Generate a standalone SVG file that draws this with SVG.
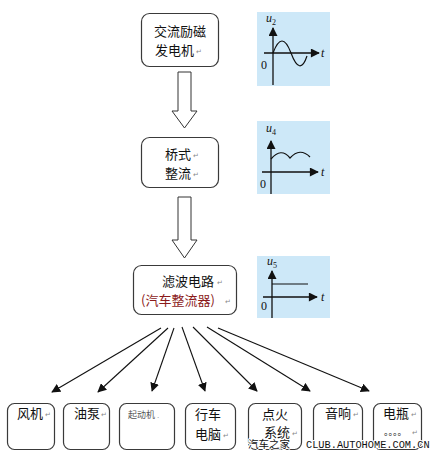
<svg xmlns="http://www.w3.org/2000/svg" width="432" height="455" viewBox="0 0 432 455">
<defs>
<style>
.box{fill:#fff;stroke:#3a3a3a;stroke-width:1.2}
.t{font-family:"Noto Sans CJK SC","Liberation Sans",sans-serif;font-size:13px;fill:#111}
.ret{font-family:"DejaVu Sans",sans-serif;font-size:7px;fill:#888}
.plot{fill:#cde8f8}
.ax{stroke:#111;stroke-width:1.3;fill:none}
.wave{stroke:#111;stroke-width:1.2;fill:none}
.pl{font-family:"Liberation Serif",serif;font-size:12px;fill:#111}
.it{font-style:italic}
.hollow{fill:#fff;stroke:#333;stroke-width:1}
.con{stroke:#111;stroke-width:1.1;fill:none;marker-end:url(#ah)}
</style>
<marker id="ah" viewBox="0 0 10 10" refX="9" refY="5" markerWidth="9" markerHeight="9" markerUnits="userSpaceOnUse" orient="auto">
<path d="M0,0 L10,5 L0,10 z" fill="#111"/>
</marker>
<marker id="axh" viewBox="0 0 10 10" refX="9" refY="5" markerWidth="10" markerHeight="9" markerUnits="userSpaceOnUse" orient="auto">
<path d="M0,0 L10,5 L0,10 z" fill="#111"/>
</marker>
</defs>

<!-- main chain -->
<g id="n1">
<rect class="box" x="141.5" y="13.5" width="77" height="53" rx="8"/>
<text class="t" x="180" y="36" text-anchor="middle">交流励磁</text>
<text class="t" x="155" y="55">发电机</text><text class="ret" x="196" y="54">↵</text>
</g>
<g id="n2">
<rect class="box" x="141.5" y="137.5" width="77" height="50" rx="8"/>
<text class="t" x="165" y="159">桥式</text><text class="ret" x="193" y="158">↵</text>
<text class="t" x="165" y="178">整流</text><text class="ret" x="193" y="177">↵</text>
</g>
<g id="n3">
<rect class="box" x="133.5" y="265.5" width="103" height="49" rx="8"/>
<text class="t" x="162" y="286">滤波电路</text><text class="ret" x="217" y="285">↵</text>
<text class="t" x="141" y="305" style="fill:#8b1a1a">(汽车整流器)</text><text class="ret" x="225" y="304">↵</text>
</g>

<!-- waveform plots -->
<g id="p1">
<rect class="plot" x="257" y="12" width="73" height="74"/>
<line class="ax" x1="273" y1="85" x2="273" y2="28" marker-end="url(#axh)"/>
<line class="ax" x1="264" y1="53" x2="319" y2="53" marker-end="url(#axh)"/>
<path class="wave" d="M273,53 Q282,29 291,53 Q300,77 307,56"/>
<text class="pl it" x="266" y="22">u<tspan font-size="8" dy="3" font-style="normal">2</tspan></text>
<text class="pl it" x="321" y="57">t</text>
<text class="pl" x="261" y="69">0</text>
</g>
<g id="p2">
<rect class="plot" x="257" y="121" width="73" height="73"/>
<line class="ax" x1="271" y1="194" x2="271" y2="141" marker-end="url(#axh)"/>
<line class="ax" x1="262" y1="172" x2="318" y2="172" marker-end="url(#axh)"/>
<path class="wave" d="M271,159 Q281,147 290,158 Q300,147 310,157"/>
<text class="pl it" x="266" y="132">u<tspan font-size="8" dy="3" font-style="normal">4</tspan></text>
<text class="pl it" x="321" y="176">t</text>
<text class="pl" x="260" y="188">0</text>
</g>
<g id="p3">
<rect class="plot" x="257" y="256" width="73" height="62"/>
<line class="ax" x1="272" y1="318" x2="272" y2="271" marker-end="url(#axh)"/>
<line class="ax" x1="263" y1="297" x2="317" y2="297" marker-end="url(#axh)"/>
<line class="wave" x1="272" y1="284" x2="308" y2="284"/>
<text class="pl it" x="267" y="265">u<tspan font-size="8" dy="3" font-style="normal">5</tspan></text>
<text class="pl it" x="321" y="301">t</text>
<text class="pl" x="261" y="310">0</text>
</g>

<!-- bottom nodes -->
<g id="b1"><rect class="box" x="7.5" y="403.5" width="47" height="46" rx="7"/><text class="t" x="17" y="418">风机</text><text class="ret" x="45" y="417">↵</text></g>
<g id="b2"><rect class="box" x="63.5" y="403.5" width="46" height="46" rx="7"/><text class="t" x="74" y="418">油泵</text><text class="ret" x="101" y="417">↵</text></g>
<g id="b3"><rect class="box" x="119.5" y="403.5" width="55" height="46" rx="7"/><text class="t" x="128" y="418" style="font-size:9px;fill:#555">起动机</text><text class="ret" x="157" y="418">.</text></g>
<g id="b4"><rect class="box" x="185.5" y="403.5" width="50" height="46" rx="7"/><text class="t" x="195" y="419">行车</text><text class="t" x="195" y="439">电脑</text><text class="ret" x="223" y="438">↵</text></g>
<g id="b5"><rect class="box" x="248.5" y="403.5" width="53" height="46" rx="7"/><text class="t" x="262" y="419">点火</text><text class="t" x="264" y="437">系统</text><text class="ret" x="292" y="436">↵</text></g>
<g id="b6"><rect class="box" x="313.5" y="403.5" width="49" height="46" rx="7"/><text class="t" x="325" y="418">音响</text><text class="ret" x="353" y="417">↵</text></g>
<g id="b7"><rect class="box" x="373.5" y="403.5" width="48" height="46" rx="7"/><text class="t" x="383" y="418">电瓶</text><text class="ret" x="411" y="417">↵</text><text class="t" x="384" y="435" style="font-size:9px">。。。。</text><text class="ret" x="412" y="435">↵</text></g>

<!-- connectors -->
<g id="connectors">
<path class="hollow" d="M178,72 H191 V111 H197 L184.5,128 L172,111 H178 Z"/>
<path class="hollow" d="M178,197 H191 V240 H197 L184.5,258 L172,240 H178 Z"/>
<line class="con" x1="161" y1="328" x2="52" y2="392"/>
<line class="con" x1="168" y1="328" x2="98" y2="392"/>
<line class="con" x1="174" y1="328" x2="152" y2="391"/>
<line class="con" x1="182" y1="327" x2="205" y2="391"/>
<line class="con" x1="193" y1="327" x2="257" y2="391"/>
<line class="con" x1="207" y1="327" x2="310" y2="391"/>
<line class="con" x1="218" y1="328" x2="369" y2="391"/>
</g>

<!-- watermark -->
<text x="248" y="448" style="font-family:'Noto Sans CJK SC',sans-serif;font-size:10.5px;fill:#111;stroke:#fff;stroke-width:2;paint-order:stroke">汽车之家</text>
<text x="306" y="448" style="font-family:'Liberation Mono',monospace;font-size:10.3px;fill:#111;stroke:#fff;stroke-width:2;paint-order:stroke">CLUB.AUTOHOME.COM.CN</text>
</svg>
